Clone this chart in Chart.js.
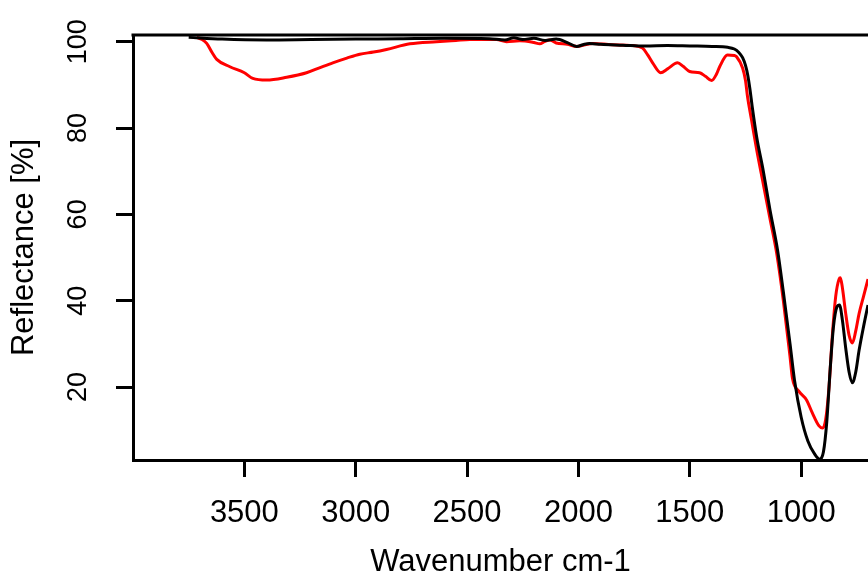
<!DOCTYPE html>
<html>
<head>
<meta charset="utf-8">
<script src="https://cdn.jsdelivr.net/npm/chart.js@4/dist/chart.umd.min.js"></script>
<style>
  html, body { margin: 0; padding: 0; background: #fff; }
  #irChart { display: block; }
</style>
</head>
<body>
<canvas id="irChart" width="868" height="575"></canvas>
<script>
// black spectrum
const blackWn = [3750, 3600, 3400, 3200, 3000, 2800, 2600, 2400, 2330, 2290, 2250, 2200, 2150, 2100, 2050, 2008, 1980, 1950, 1900, 1800, 1700, 1600, 1500, 1400, 1330, 1300, 1280, 1263, 1250, 1240, 1230, 1220, 1200, 1170, 1140, 1106, 1080, 1050, 1030, 1000, 970, 940, 918, 900, 885, 870, 855, 840, 828, 815, 800, 785, 770, 755, 740, 720, 700];
const blackR = [101.0, 100.6, 100.4, 100.5, 100.6, 100.7, 100.8, 100.7, 100.4, 100.9, 100.5, 100.8, 100.3, 100.6, 99.8, 98.9, 99.3, 99.6, 99.4, 99.2, 99.0, 99.1, 99.0, 98.9, 98.7, 98.3, 97.5, 96.3, 94.5, 92.3, 89.0, 85.0, 78.0, 70.0, 61.0, 51.7, 42.0, 30.0, 21.6, 13.0, 7.5, 4.5, 3.3, 5.0, 12.0, 24.0, 34.0, 38.5, 39.0, 35.5, 29.0, 23.5, 21.0, 23.5, 28.5, 34.0, 39.0];

// red spectrum
const redWn = [3714, 3690, 3669, 3645, 3624, 3565, 3500, 3462, 3400, 3310, 3221, 3160, 3103, 3040, 2982, 2920, 2862, 2757, 2638, 2550, 2488, 2368, 2323, 2264, 2200, 2174, 2150, 2129, 2100, 2050, 2008, 1970, 1936, 1850, 1757, 1712, 1690, 1667, 1631, 1600, 1555, 1530, 1501, 1456, 1430, 1402, 1380, 1366, 1331, 1300, 1290, 1263, 1250, 1241, 1223, 1200, 1170, 1140, 1110, 1080, 1050, 1039, 1010, 976, 950, 920, 904, 890, 875, 860, 845, 830, 824, 815, 800, 785, 770, 755, 740, 720, 700];
const redR = [101.0, 100.5, 99.6, 97.5, 95.9, 94.2, 92.8, 91.5, 91.1, 91.75, 92.8, 94.0, 95.1, 96.2, 97.1, 97.6, 98.2, 99.5, 100.0, 100.3, 100.5, 100.5, 100.0, 100.2, 99.8, 99.5, 100.1, 100.4, 99.7, 99.4, 98.9, 99.3, 99.6, 99.3, 99.1, 98.5, 97.0, 95.1, 92.8, 93.7, 95.1, 94.3, 93.1, 92.8, 92.0, 91.0, 92.5, 94.2, 96.9, 96.8, 96.5, 93.9, 91.0, 87.3, 81.9, 75.0, 67.0, 59.0, 51.0, 40.0, 27.0, 22.0, 19.0, 17.0, 14.0, 11.0, 10.5, 12.5, 20.0, 32.0, 41.0, 45.0, 45.3, 43.0, 37.0, 32.0, 30.2, 33.0, 37.0, 41.0, 45.0];

const xTicks = [3500, 3000, 2500, 2000, 1500, 1000];
const yTicks = [20, 40, 60, 80, 100];

const toPoints = (xs, ys) => xs.map((x, i) => ({ x: x, y: ys[i] }));

const topBorder = {
    id: 'topBorder',
    afterDraw(chart) {
        const { ctx, chartArea } = chart;
        ctx.save();
        ctx.strokeStyle = '#000';
        ctx.lineWidth = 3;
        ctx.beginPath();
        ctx.moveTo(chartArea.left - 1.5, chartArea.top);
        ctx.lineTo(chartArea.right, chartArea.top);
        ctx.stroke();
        ctx.restore();
    }
};

const fontFamily = '"Liberation Sans", Arial, sans-serif';

new Chart(document.getElementById('irChart').getContext('2d'), {
    type: 'line',
    data: {
        datasets: [{
            label: 'black',
            data: toPoints(blackWn, blackR),
            borderColor: '#000000',
            borderWidth: 3,
            pointRadius: 0,
            cubicInterpolationMode: 'monotone'
        }, {
            label: 'red',
            data: toPoints(redWn, redR),
            borderColor: '#ff0000',
            borderWidth: 3,
            pointRadius: 0,
            cubicInterpolationMode: 'monotone'
        }]
    },
    options: {
        responsive: false,
        animation: false,
        layout: { padding: { top: 35, right: 0, left: 0, bottom: 0 } },
        plugins: { legend: { display: false }, tooltip: { enabled: false } },
        scales: {
            x: {
                type: 'linear',
                reverse: true,
                min: 700,
                max: 4000,
                afterBuildTicks: s => { s.ticks = xTicks.map(v => ({ value: v })); },
                afterFit: s => { s.height = 115; },
                border: { display: true, color: '#000', width: 3 },
                grid: { drawOnChartArea: false, drawTicks: true, tickLength: 17, color: '#000', lineWidth: 3 },
                ticks: {
                    color: '#000',
                    padding: 21,
                    maxRotation: 0,
                    callback: v => String(v),
                    font: { family: fontFamily, size: 31, lineHeight: 1 }
                },
                title: {
                    display: true,
                    text: 'Wavenumber cm-1',
                    color: '#000',
                    padding: 0,
                    font: { family: fontFamily, size: 31, lineHeight: 0.8 }
                }
            },
            y: {
                min: 3.1,
                max: 101.55,
                afterBuildTicks: s => { s.ticks = yTicks.map(v => ({ value: v })); },
                afterFit: s => { s.width = 133; },
                border: { display: true, color: '#000', width: 3 },
                grid: { drawOnChartArea: false, drawTicks: true, tickLength: 17, color: '#000', lineWidth: 3 },
                ticks: {
                    color: '#000',
                    padding: 15,
                    minRotation: 90,
                    maxRotation: 90,
                    crossAlign: 'center',
                    callback: v => String(v),
                    font: { family: fontFamily, size: 27, lineHeight: 1 }
                },
                title: {
                    display: true,
                    text: 'Reflectance [%]',
                    color: '#000',
                    padding: { top: 9 },
                    font: { family: fontFamily, size: 31, lineHeight: 1 }
                }
            }
        }
    },
    plugins: [topBorder]
});
</script>
</body>
</html>
